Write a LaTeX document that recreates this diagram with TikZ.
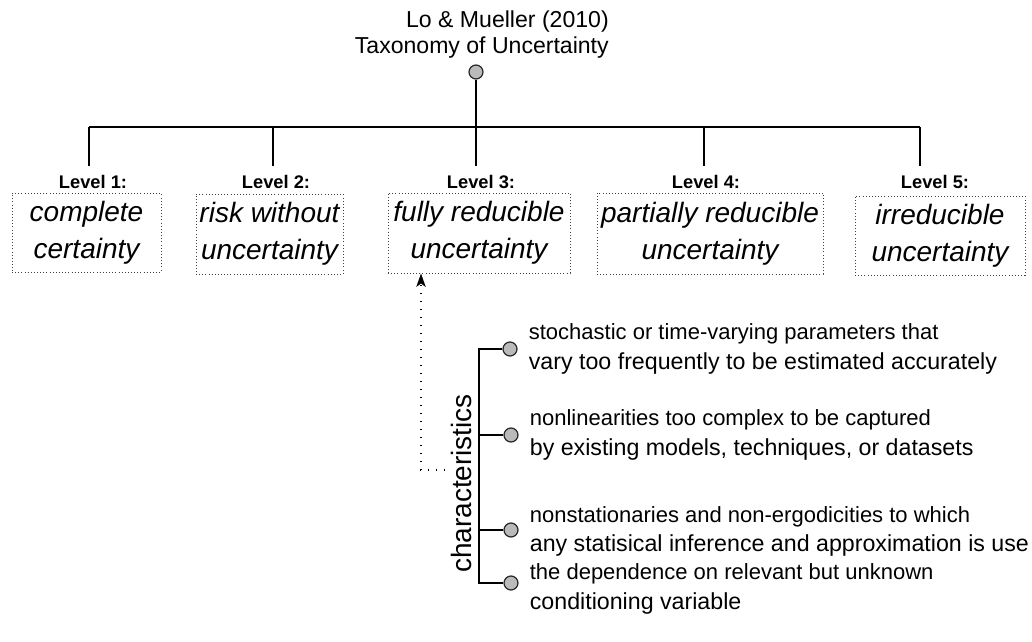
\documentclass[tikz,border=0pt]{standalone}
\usepackage{fontspec}
\setmainfont{Liberation Sans}
\usepackage{tikz}
\usetikzlibrary{calc, positioning, arrows.meta}
\newcommand{\linetwo}{\fontsize{17.4}{22}\selectfont}% the second line of each item is set a bit larger
\tikzset{
    x=0.75pt, y=-0.75pt,% one unit is one pixel of the target, y grows downwards
    bar/.style = {line width=1.5pt},
    dot/.style = {circle, draw=black!85, fill=black!27, line width=0.9pt, minimum size=10.5pt, inner sep=0pt, node contents={}},
    title/.style = {anchor=south east, align=right, inner sep=0pt, font=\fontsize{17.3}{19.5}\selectfont},
    lvl/.style = {anchor=base, inner xsep=0pt, inner ysep=6.5pt, font=\fontsize{13.7}{16}\selectfont\bfseries},
    lvlbox/.style = {draw=black!75, line width=0.75pt, dash pattern=on 0.75pt off 1.6pt, align=center, inner sep=1pt, font=\fontsize{21}{27.75}\selectfont\itshape},
    charlab/.style = {rotate=90, inner sep=0pt, font=\fontsize{21}{24}\selectfont},
    item/.style = {align=left, inner sep=0pt, font=\fontsize{16.5}{22}\selectfont},
    dotarrow/.style = {line width=1.1pt, dash pattern=on 1.1pt off 4.9pt, -{Stealth[length=10pt, width=7pt, inset=2.5pt]}}
}
\begin{document}
\begin{tikzpicture}
\useasboundingbox (0,0) rectangle (1032,642);
% root
\node[title] (ttl) at (609,59) {Lo \& Mueller (2010)\\Taxonomy of Uncertainty};
\node (root) at (476,72) [dot];
\coordinate (b1) at (89,127);
\coordinate (b2) at (273,127);
\coordinate (b3) at (476,127);
\coordinate (b4) at (704,127);
\coordinate (b5) at (920,127);
\path[bar] (root) edge (b3)
           (b1) edge (b5);
% the five levels
\node[lvl] (lvl1) at (93,188) {Level 1:};
\node[lvl] (lvl2) at (276,188) {Level 2:};
\node[lvl] (lvl3) at (481,188) {Level 3:};
\node[lvl] (lvl4) at (706,188) {Level 4:};
\node[lvl] (lvl5) at (935,188) {Level 5:};
\node[lvlbox, minimum width=111.75pt, minimum height=59.25pt] (box1) at (86.5,232.5) {complete\\certainty};
\node[lvlbox, minimum width=110.25pt, minimum height=60pt] (box2) at (269.5,234) {risk without\\uncertainty};
\node[lvlbox, minimum width=136.5pt, minimum height=60pt] (box3) at (479,233) {fully reducible\\uncertainty};
\node[lvlbox, minimum width=169.5pt, minimum height=60.75pt] (box4) at (710,233.5) {partially reducible\\uncertainty};
\node[lvlbox, minimum width=127.5pt, minimum height=59.25pt] (box5) at (940,235.5) {irreducible\\uncertainty};
\draw[bar] (b1) -- (b1 |- lvl1.north);
\draw[bar] (b2) -- (b2 |- lvl2.north);
\draw[bar] (b3) -- (b3 |- lvl3.north);
\draw[bar] (b4) -- (b4 |- lvl4.north);
\draw[bar] (b5) -- (b5 |- lvl5.north);
% characteristics of level 3
\node[charlab] (chars) at (461,483.5) {characteristics};
\node (c1) at (510,349) [dot];
\node (c2) at (511,435) [dot];
\node (c3) at (511,530) [dot];
\node (c4) at (511,583) [dot];
\coordinate (spine) at (479,349);
\draw[bar] (c1) -- (c1 -| spine) |- (c4);
\draw[bar] (c2) -- (c2 -| spine);
\draw[bar] (c3) -- (c3 -| spine);
\node[item, right=8.25pt of c1] (t1) {stochastic or time-varying parameters that\\\linetwo vary too frequently to be estimated accurately};
\node[item, right=8.25pt of c2] (t2) {nonlinearities too complex to be captured\\\linetwo by existing models, techniques, or datasets};
\node[item, right=8.25pt of c3, yshift=-1pt] (t3) {nonstationaries and non-ergodicities to which\\\linetwo any statisical inference and approximation is use};
\node[item, right=8.25pt of c4, yshift=-4.5pt] (t4) {the dependence on relevant but unknown\\\linetwo conditioning variable};
\coordinate (dstart) at (445,470);
\coordinate (dbend) at (421,470);
\draw[dotarrow] (dstart) -- (dbend) -- (dbend |- box3.south);
\end{tikzpicture}
\end{document}
